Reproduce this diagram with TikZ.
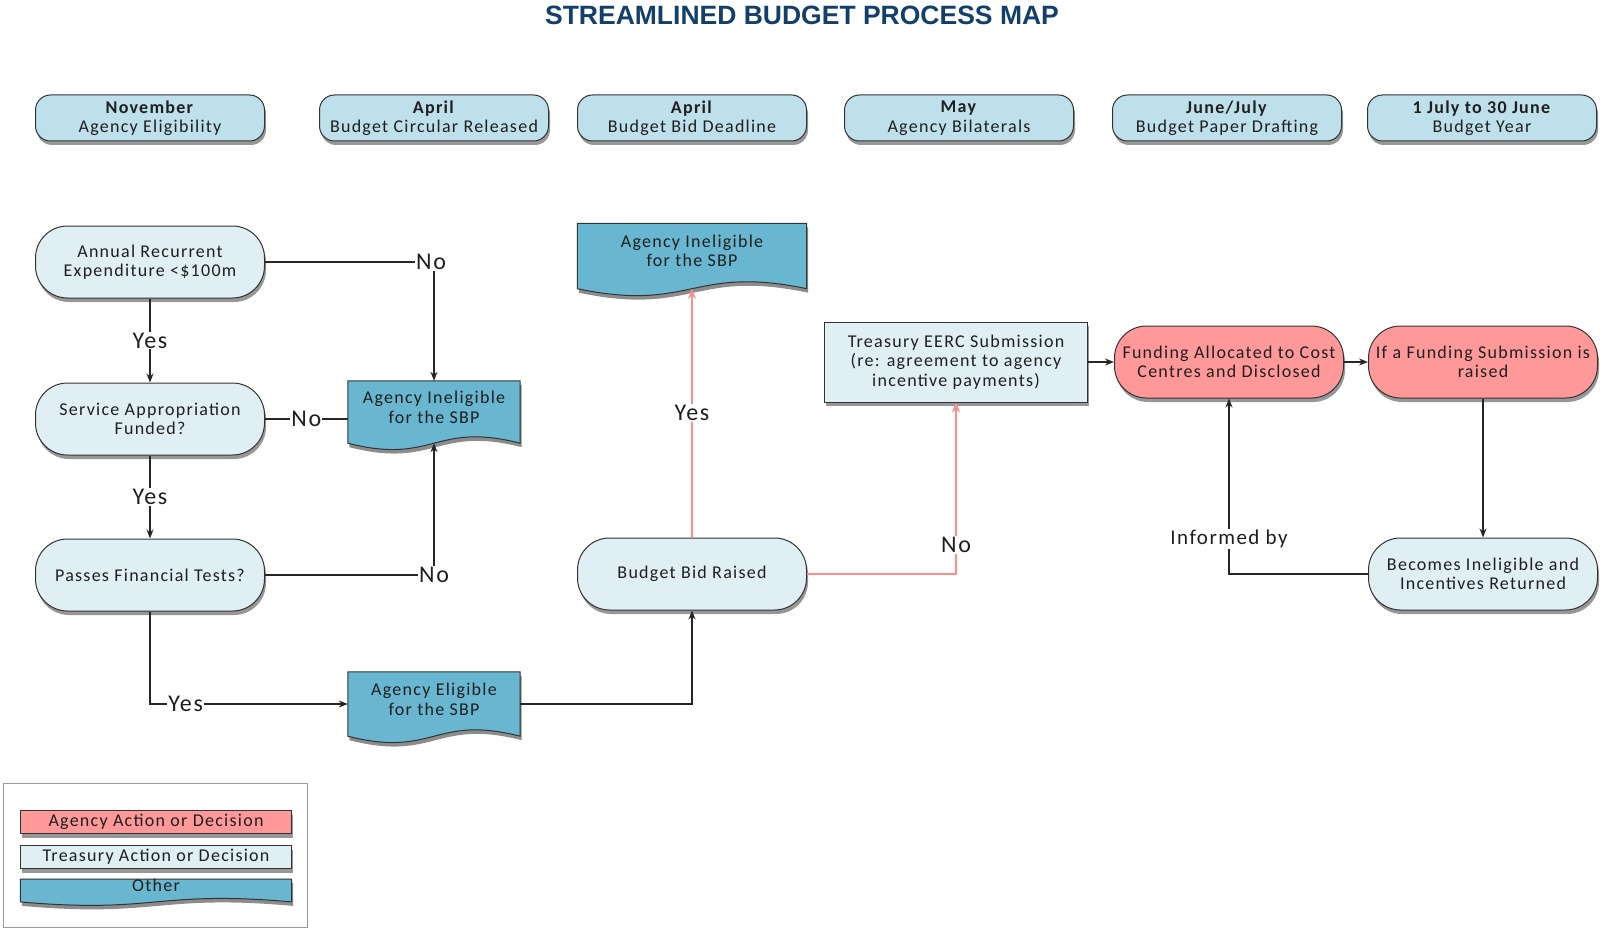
\documentclass[tikz,border=0pt]{standalone}
\usepackage{fontspec}
\setmainfont{Carlito}[LetterSpace=7]
\newfontfamily\titlefont{Liberation Sans}
\usepackage{tikz}
\usetikzlibrary{positioning, arrows.meta, calc, shadows, backgrounds}
\definecolor{titleblue}{HTML}{133F6B}
\definecolor{boxline}{HTML}{333333}
\definecolor{headfill}{HTML}{BEE0EB}
\definecolor{treasfill}{HTML}{DFEFF4}
\definecolor{agencyfill}{HTML}{FF9999}
\definecolor{otherfill}{HTML}{68B6CF}
\definecolor{redline}{HTML}{FF8C8C}

% wavy "document" outline round a plain node: #1 node, #2 fill, #3 wave
\newcommand\docshape[3]{%
  \begin{pgfonlayer}{background}
  \fill[black!45, transform canvas={shift={(1.5pt,-4pt)}}]
    (#1.north west) -- (#1.north east) -- (#1.south east)
    .. controls ($(#1.south)+(0,-#3)$) and ($(#1.south)+(0,#3)$) .. (#1.south west) -- cycle;
  \draw[fill=#2, draw=boxline, line width=1pt]
    (#1.north west) -- (#1.north east) -- (#1.south east)
    .. controls ($(#1.south)+(0,-#3)$) and ($(#1.south)+(0,#3)$) .. (#1.south west) -- cycle;
  \end{pgfonlayer}}

\begin{document}
\begin{tikzpicture}[x=1pt, y=-1pt,
    txt/.style={font=\fontsize{18}{19.5}\selectfont, text=black!88, align=center},
    shade/.style={drop shadow={shadow xshift=1.5pt, shadow yshift=-4pt,
      fill=black!45, opacity=.9}},
    head/.style={txt, shade, draw=boxline, line width=1pt, fill=headfill,
      rounded corners=15pt, minimum width=229pt, minimum height=46pt, inner sep=0pt},
    term/.style={txt, shade, draw=boxline, line width=1pt, rounded corners=32pt,
      minimum width=229pt, minimum height=72pt, inner sep=0pt},
    treas/.style={term, fill=treasfill},
    agency/.style={term, fill=agencyfill},
    docbox/.style={txt, minimum width=172pt, minimum height=62pt, inner sep=0pt,
      text depth=10pt},
    keybox/.style={txt, shade, draw=boxline, line width=1pt, minimum width=271pt,
      minimum height=23pt, inner sep=0pt},
    lbl/.style={fill=white, inner sep=1pt, font=\fontsize{24}{26}\selectfont, text=black!88},
    plain/.style={line width=1.3pt, black!85},
    arr/.style={-{Stealth[length=9pt, width=7pt]}, line width=1.3pt, black!85},
    rarr/.style={-{Stealth[length=10pt, width=8pt]}, line width=2.8pt, redline}]
\useasboundingbox (0,0) rectangle (1600,928);

% --- Title and time line ---
\node[font=\titlefont\bfseries\fontsize{26.5}{28}\selectfont, text=titleblue] (title)
  at (802,15) {STREAMLINED BUDGET PROCESS MAP};
\node[head] (h1) at (150,118) {\textbf{November}\\Agency Eligibility};
\node[head] (h2) at (434,118) {\textbf{April}\\Budget Circular Released};
\node[head] (h3) at (692,118) {\textbf{April}\\Budget Bid Deadline};
\node[head] (h4) at (959,118) {\textbf{May}\\Agency Bilaterals};
\node[head] (h5) at (1227,118) {\textbf{June/July}\\Budget Paper Drafting};
\node[head] (h6) at (1482,118) {\textbf{1 July to 30 June}\\Budget Year};

% --- Eligibility tests ---
\node[treas] (annual) at (150,262) {Annual Recurrent\\Expenditure <\$100m};
\node[treas, below=84pt of annual] (service) {Service Appropriation\\Funded?};
\node[treas, below=83pt of service] (passes) {Passes Financial Tests?};
\node[docbox] (inelig) at (434,412) {Agency Ineligible\\for the SBP};
\docshape{inelig}{otherfill}{22}
\node[docbox, minimum height=64pt] (elig) at (434,704) {Agency Eligible\\for the SBP};
\docshape{elig}{otherfill}{22}

\draw[arr] (annual.east) -- (annual.east -| inelig.north) node[lbl, xshift=-3pt]{No}
  -- (inelig.north);
\draw[arr] (annual.south) -- node[lbl]{Yes} (service.north);
\draw[plain] (service.east) -- node[lbl]{No} (service.east -| inelig.west);
\draw[arr] (service.south) -- node[lbl]{Yes} (passes.north);
\draw[arr] (passes.east) -- (passes.east -| inelig.south) node[lbl]{No} -- (inelig.south);
\draw[arr] (passes.south) |- node[lbl, pos=0.59]{Yes} (elig.west);

% --- Budget bid ---
\node[treas] (bid) at (692,574) {Budget Bid Raised};
\node[docbox, minimum width=229pt, minimum height=65pt] (inelig2) at (692,256)
  {Agency Ineligible\\for the SBP};
\docshape{inelig2}{otherfill}{24}
\node[txt, shade, draw=boxline, line width=1pt, fill=treasfill, minimum width=263pt,
  minimum height=80pt, inner sep=0pt] (eerc) at (956,362)
  {Treasury EERC Submission\\(re: agreement to agency\\incentive payments)};

\draw[arr] (elig.east) -| (bid.south);
\draw[rarr] (bid.north) -- node[lbl]{Yes} (inelig2.south);
\draw[rarr] (bid.east) -| node[lbl, pos=0.585]{No} (eerc.south);

% --- Funding ---
\node[agency] (funding) at (1229,362) {Funding Allocated to Cost\\Centres and Disclosed};
\node[agency] (ifsub) at (1483,362) {If a Funding Submission is\\raised};
\node[treas] (becomes) at (1483,574) {Becomes Ineligible and\\Incentives Returned};

\draw[arr] (eerc.east) -- (funding.west);
\draw[arr] (funding.east) -- (ifsub.west);
\draw[arr] (ifsub.south) -- (becomes.north);
\draw[arr] (becomes.west) -| node[lbl, pos=0.6, font=\fontsize{21}{23}\selectfont]{Informed by}
  (funding.south);

% --- Legend ---
\node[draw=black!40, line width=0.8pt, minimum width=304pt, minimum height=144pt,
  anchor=north west] (legend) at (3,783) {};
\node[keybox, fill=agencyfill] (kagency) at (156,822) {Agency Action or Decision};
\node[keybox, fill=treasfill, below=11pt of kagency] (ktreas) {Treasury Action or Decision};
\node[docbox, minimum width=271pt, minimum height=18pt, text depth=10pt,
  below=10pt of ktreas] (kother) {Other};
\docshape{kother}{otherfill}{12}
\end{tikzpicture}
\end{document}
